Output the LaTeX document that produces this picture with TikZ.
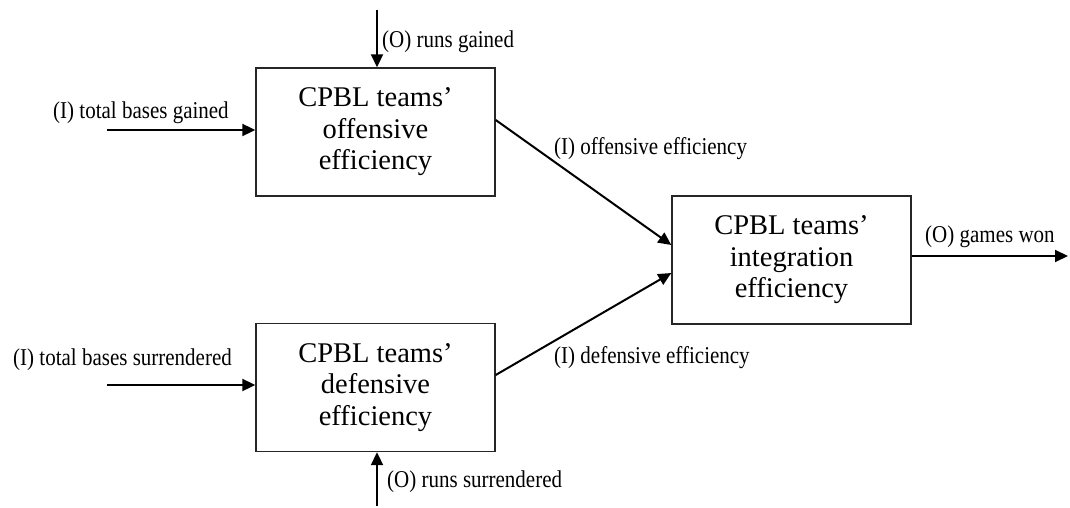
\documentclass[tikz,border=0pt]{standalone}
\usepackage{fontspec}
\setmainfont{Liberation Serif}
\usetikzlibrary{arrows.meta}
\newcommand{\tallt}[1]{\scalebox{1}[1.15]{#1}}
\begin{document}
\begin{tikzpicture}[x=1pt,y=-1pt,
  procbox/.style={draw=black!85,line width=1.4pt,minimum width=239pt,minimum height=128pt,inner sep=0pt,align=center,font=\fontsize{28.5}{31.5}\selectfont},
  lbl/.style={font=\fontsize{21}{24}\selectfont,inner sep=0pt},
  flow/.style={line width=2pt,-{Triangle[length=13pt,width=12pt]}}]
\useasboundingbox (0,0) rectangle (1070,508);
\node[procbox] (off) at (375.5,132) {CPBL teams'\\offensive\\efficiency};
\node[procbox] (def) at (375.5,387.5) {CPBL teams'\\defensive\\efficiency};
\node[procbox] (integ) at (791.5,260) {CPBL teams'\\integration\\efficiency};
\coordinate (tin) at (377,10);
\coordinate (bin) at (377,506);
\coordinate (lin1) at (107,130);
\coordinate (lin2) at (107,385);
\coordinate (out) at (1068,256);
\draw[flow] (tin) -- (tin |- off.north);
\draw[flow] (bin) -- (bin |- def.south);
\draw[flow] (lin1) -- (lin1 -| off.west);
\draw[flow] (lin2) -- (lin2 -| def.west);
\draw[flow] ([yshift=12pt]off.east) -- ([yshift=15pt]integ.west);
\draw[flow] ([yshift=12.5pt]def.east) -- ([yshift=-13pt]integ.west);
\draw[flow] (integ.east |- out) -- (out);
\node[lbl,anchor=base west] (l1) at (382,48) {\tallt{(O) runs gained}};
\node[lbl,anchor=base west] (l2) at (387,487) {\tallt{(O) runs surrendered}};
\node[lbl,anchor=base west] (l3) at (53,119) {\tallt{(I) total bases gained}};
\node[lbl,anchor=base west] (l4) at (13,365) {\tallt{(I) total bases surrendered}};
\node[lbl,anchor=base west] (l5) at (554,154) {\tallt{(I) offensive efficiency}};
\node[lbl,anchor=base west] (l6) at (554,363) {\tallt{(I) defensive efficiency}};
\node[lbl,anchor=base west] (l7) at (925,242) {\tallt{(O) games won}};
\end{tikzpicture}
\end{document}
